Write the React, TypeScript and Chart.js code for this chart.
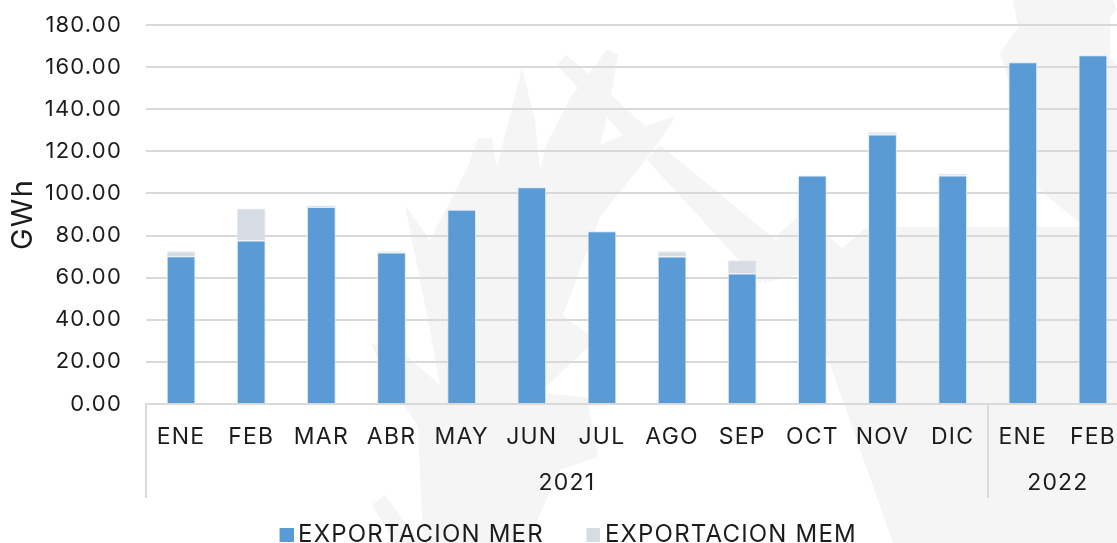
import React, { useEffect, useRef } from "react";
import { Chart, registerables } from "chart.js";

Chart.register(...registerables);

const months = ["ENE", "FEB", "MAR", "ABR", "MAY", "JUN", "JUL", "AGO", "SEP", "OCT", "NOV", "DIC", "ENE", "FEB"];
const exportMer = [70.2, 77.6, 93.6, 71.9, 92.3, 103, 82, 70, 62, 108.5, 128, 108.5, 162.3, 165.6];
const exportMem = [2.4, 15.3, 0.7, 0.7, 0.2, 0, 0, 2.6, 6.3, 0.2, 1.1, 0.9, 0.2, 0.2];
const groupLabels = ["2021", "2022"];
const groupSizes = [12, 2];
const seriesColors = ["#5b9bd5", "#d5dce4"];

const FONT = "Inter, sans-serif";
const TEXT = "#1c1c1c";
const GRID = "#d9d9d9";
const WATERMARK = "#f5f5f5";

// Faint background emblem behind the chart (decoration only, no data).
const emblemShapes: number[][][] = [
  [[522,68],[535,120],[540,170],[547,143],[573,93],[578,88],[557,65],[566,55],[589,74],[607,49],[618,55],[611,95],[645,126],[676,116],[660,140],[647,158],[600,217],[563,315],[595,340],[540,393],[587,397],[598,457],[560,470],[527,543],[423,543],[418,427],[393,387],[370,343],[403,353],[440,385],[430,330],[405,205],[430,240],[468,167],[478,138],[492,138],[497,167]],
  [[372,505],[385,495],[420,543],[395,543]],
  [[660,145],[788,250],[783,255],[760,283],[647,160]],
  [[777,280],[803,273],[825,350],[893,543],[1117,543],[1117,227],[867,227],[842,248],[825,232],[797,217],[778,235],[763,283]],
  [[1013,0],[1018,28],[1000,53],[1040,190],[1077,221],[1117,232],[1117,65],[1110,57],[1110,17],[1117,10],[1113,0]],
];
const emblemHoles: number[][][] = [
  [[607,117],[623,135],[600,145]],
];

// Legend swatch: a 14px square sitting at the right of a transparent image,
// so it lands close to its label as in the reference.
function legendSwatch(color: string) {
  const c = document.createElement("canvas");
  c.width = 30;
  c.height = 14;
  const g = c.getContext("2d")!;
  g.fillStyle = color;
  g.fillRect(16, 0, 14, 14);
  return c;
}

const spacing = {
  id: "spacing",
  beforeLayout(c: any) { c.ctx.letterSpacing = "1.2px"; },
  beforeDraw(c: any) { c.ctx.letterSpacing = "1.2px"; },
};

const emblem = {
  id: "emblem",
  beforeDraw(c: any) {
    const ctx = c.ctx;
    const fill = (shapes: number[][][], color: string) => {
      ctx.fillStyle = color;
      shapes.forEach((p) => {
        ctx.beginPath();
        p.forEach(([x, y], i) => (i ? ctx.lineTo(x, y) : ctx.moveTo(x, y)));
        ctx.closePath();
        ctx.fill();
      });
    };
    ctx.save();
    fill(emblemShapes, WATERMARK);
    fill(emblemHoles, "#ffffff");
    ctx.restore();
  },
};

const separators = {
  id: "separators",
  afterDraw(c: any) {
    const x = c.scales.x;
    const x2 = c.scales.x2;
    const ctx = c.ctx;
    ctx.save();
    ctx.strokeStyle = GRID;
    ctx.lineWidth = 2;
    let start = 0;
    const edges = [0];
    groupSizes.forEach((n) => { start += n; edges.push(start); });
    edges.slice(0, -1).forEach((e) => {
      const px = Math.round(x.getPixelForValue(e - 0.5));
      ctx.beginPath();
      ctx.moveTo(px, x.top);
      ctx.lineTo(px, x2.bottom + 9);
      ctx.stroke();
    });
    ctx.restore();
  },
};

export default function App() {
  const ref = useRef<HTMLCanvasElement>(null);
  useEffect(() => {
    const groupCenters: number[] = [];
    let s = 0;
    groupSizes.forEach((n) => { groupCenters.push(s + n / 2); s += n; });
    const swatches = seriesColors.map(legendSwatch);
    const chart = new Chart(ref.current!, {
      type: "bar",
      plugins: [spacing, emblem, separators],
      data: {
        labels: months,
        datasets: [
          { label: "EXPORTACION MER", data: exportMer, backgroundColor: seriesColors[0], borderColor: "#dfe8f3", borderWidth: 1, categoryPercentage: 1, barPercentage: 0.41, stack: "a" },
          { label: "EXPORTACION MEM", data: exportMem, backgroundColor: seriesColors[1], borderColor: "#e6eaf0", borderWidth: 1, categoryPercentage: 1, barPercentage: 0.41, stack: "a" },
        ],
      },
      options: {
        responsive: false,
        animation: false,
        layout: { padding: { top: 25, left: 0, right: 13, bottom: 0 } },
        plugins: {
          tooltip: { enabled: false },
          legend: {
            position: "bottom",
            labels: {
              color: TEXT,
              font: { family: FONT, size: 24 },
              boxWidth: 15,
              boxHeight: 15,
              padding: 34,
              usePointStyle: true,
              generateLabels(c: any) {
                return Chart.defaults.plugins.legend.labels
                  .generateLabels(c)
                  .map((l: any, i: number) => ({ ...l, pointStyle: swatches[i] }));
              },
            },
          },
        },
        scales: {
          x: {
            stacked: true,
            grid: { drawOnChartArea: false, drawTicks: false, color: GRID, lineWidth: 2 },
            border: { color: GRID, width: 2 },
            ticks: { color: TEXT, font: { family: FONT, size: 23 }, padding: 19, autoSkip: false, maxRotation: 0 },
            afterFit(a: any) { a.height = 55; a.paddingLeft = 0; a.paddingRight = 0; },
          },
          x2: {
            type: "linear",
            position: "bottom",
            offset: false,
            min: 0,
            max: months.length,
            grid: { display: false, offset: false },
            border: { display: false },
            afterBuildTicks(a: any) { a.ticks = groupCenters.map((v) => ({ value: v })); },
            ticks: {
              color: TEXT,
              font: { family: FONT, size: 23 },
              padding: 2,
              autoSkip: false,
              maxRotation: 0,
              callback(_v: any, i: number) { return groupLabels[i]; },
            },
            afterFit(a: any) {
              a.height = 30;
              a.paddingLeft = 0;
              a.paddingRight = 0;
              a._computeLabelArea = () => undefined;
            },
          },
          y: {
            stacked: true,
            min: 0,
            max: 180,
            grid: { color: GRID, lineWidth: 2, drawTicks: false },
            border: { display: false },
            ticks: { stepSize: 20, color: TEXT, font: { family: FONT, size: 22 }, padding: 24, callback: (v: any) => Number(v).toFixed(2) },
            title: { display: true, text: "GWh", color: TEXT, font: { family: FONT, size: 29 }, padding: { top: 6, bottom: 0 } },
            afterFit(a: any) { a.width = 146; a.paddingTop = 0; a.paddingBottom = 0; },
          },
        },
      },
    } as any);
    return () => chart.destroy();
  }, []);
  return (
    <div style={{ position: "absolute", left: 0, top: 0, width: 1117, height: 543, overflow: "hidden" }}>
      <canvas ref={ref} width={1141} height={557} style={{ display: "block", width: 1141, height: 557 }} />
    </div>
  );
}
